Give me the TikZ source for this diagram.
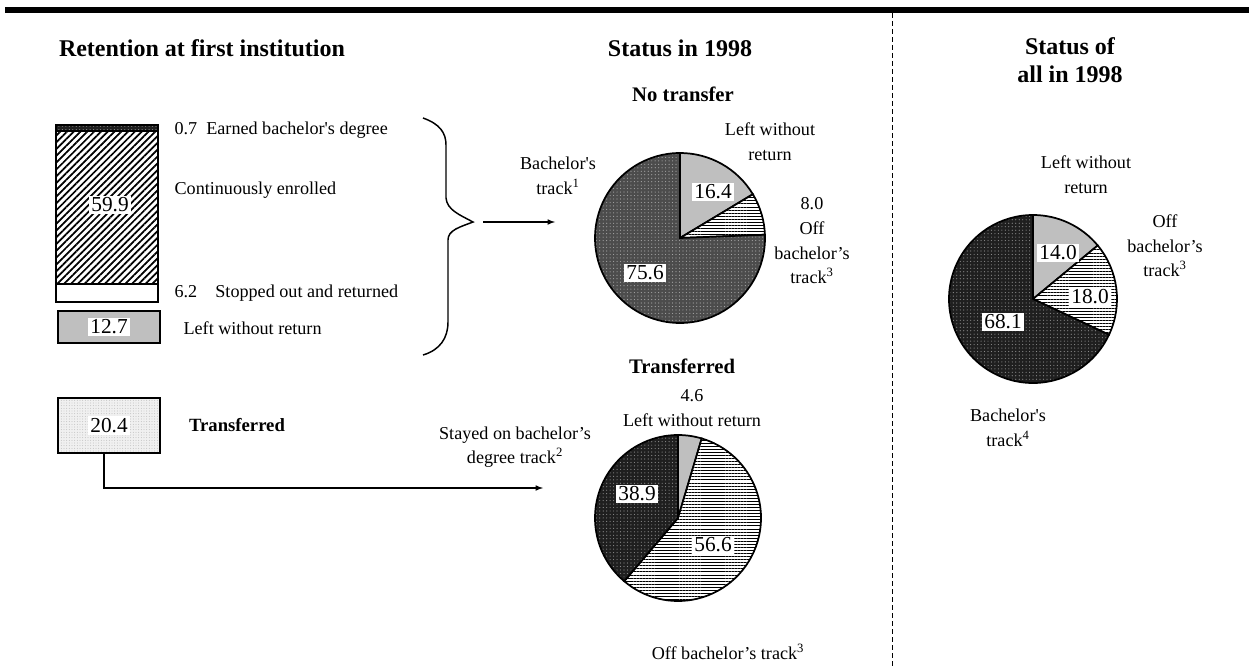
\documentclass[tikz,border=0pt]{standalone}
\usepackage{fontspec}
\setmainfont{Liberation Serif}
\usetikzlibrary{patterns,patterns.meta}
\newcommand{\sq}{\textquotesingle}
\tikzset{
  txt/.style={font=\fontsize{13.6}{18.5}\selectfont, align=center, inner sep=1pt},
  wert/.style={fill=white, inner sep=1.5pt, font=\fontsize{16}{18}\selectfont},
  titel/.style={font=\fontsize{18}{21}\selectfont\bfseries, align=center, inner sep=1pt},
  untertitel/.style={font=\fontsize{15.5}{18}\selectfont\bfseries, inner sep=1pt},
  rand/.style={draw, line width=1pt},
  kreis/.style={draw, line width=1.3pt},
  grau/.style={fill=black!25},
  punkte/.style={preaction={fill=black!88}, pattern={Dots[distance=2.6pt, radius=0.45pt]}, pattern color=black!45},
  mittelpunkte/.style={preaction={fill=black!70}, pattern={Dots[distance=2.6pt, radius=0.45pt]}, pattern color=black!35},
  hellpunkte/.style={preaction={fill=black!6}, pattern={Dots[distance=2pt, radius=0.35pt]}, pattern color=black!30},
  quer/.style={preaction={fill=white}, pattern={Lines[distance=2.3pt, line width=0.7pt]}},
  schraeg/.style={preaction={fill=white}, pattern={Lines[angle=45, distance=3.6pt, line width=1.3pt]}},
  pfeil/.style={-{latex}, line width=0.9pt}
}
\begin{document}
\begin{tikzpicture}[x=0.75pt, y=0.75pt]
  \useasboundingbox (0,0) rectangle (1249,-667);
  % Rahmen
  \draw [line width=4.5pt] (5,-9.7) -- (1249,-9.7);
  \draw [line width=0.75pt, dash pattern=on 3.75pt off 2.25pt] (892,-13) -- (892,-667);
  % Titel
  \node [titel] (tret) at (202,-48) {Retention at first institution};
  \node [titel] (tstat) at (680,-48) {Status in 1998};
  \node [titel] (tall) at (1070,-60) {Status of\\all in 1998};
  \node [untertitel] (tnone) at (683,-94) {No transfer};
  \node [untertitel] (ttrans) at (682,-366) {Transferred};

  % Balken
  \draw [rand, punkte] (56,-125) rectangle (158,-131);
  \draw [rand, schraeg] (56,-131) rectangle (158,-284);
  \draw [rand, fill=white] (56,-284) rectangle (158,-302);
  \node [wert] (w599) at (110,-205) {59.9};
  \node [rand, grau, minimum width=76.5pt, minimum height=24pt] (lwbox) at (109,-327) {};
  \node [wert] (w127) at (lwbox) {12.7};
  \node [rand, hellpunkte, minimum width=76.5pt, minimum height=41.25pt] (transbox) at (109,-425.5) {};
  \node [wert] (w204) at (transbox) {20.4};
  \node [txt, anchor=west] (learn) at (173,-130) {0.7\enspace Earned bachelor\sq s degree};
  \node [txt, anchor=west] (lcont) at (173,-190) {Continuously enrolled};
  \node [txt, anchor=west] (lstop) at (173,-293) {6.2\quad Stopped out and returned};
  \node [txt, anchor=west] (lleft) at (182,-328) {Left without return};
  \node [font=\fontsize{14}{16}\selectfont\bfseries] (ltrans) at (237,-425) {Transferred};

  % Klammer und Pfeile
  \coordinate (bracetip) at (473,-222);
  \draw [line width=1.1pt] (423,-118) .. controls (440,-124) and (446,-133) .. (446,-145)
    -- (446,-198) .. controls (447,-210) and (460,-215) .. (bracetip)
    .. controls (460,-227) and (448,-230) .. (448,-240)
    -- (448,-322) .. controls (448,-338) and (440,-350) .. (423,-355);
  \coordinate (pz1) at (555,-222);
  \coordinate (pz2) at (543,-488);
  \draw [pfeil] ([xshift=7.5pt]bracetip) -- (pz1);
  \draw [pfeil] ([xshift=-3.75pt]transbox.south) |- (pz2);

  % Kreis: keine Uebertragung
  \coordinate (p1) at (680,-238);
  \draw [kreis, grau] (p1) -- ++(90:85) arc [start angle=90, end angle=31, radius=85] -- cycle;
  \draw [kreis, quer] (p1) -- ++(31:85) arc [start angle=31, end angle=2.2, radius=85] -- cycle;
  \draw [kreis, mittelpunkte] (p1) -- ++(2.2:85) arc [start angle=2.2, end angle=-270, radius=85] -- cycle;
  \node [wert] (w164) at (713,-192) {16.4};
  \node [wert] (w756) at (645,-273) {75.6};
  \node [txt] (a1) at (558,-176) {Bachelor\sq s\\track\textsuperscript{1}};
  \node [txt] (b1) at (770,-142) {Left without\\return};
  \node [txt] (c1) at (812,-241) {8.0\\Off\\bachelor's\\track\textsuperscript{3}};

  % Kreis: uebertragen
  \coordinate (p2) at (678,-518);
  \draw [kreis, grau] (p2) -- ++(90:83) arc [start angle=90, end angle=73.4, radius=83] -- cycle;
  \draw [kreis, quer] (p2) -- ++(73.4:83) arc [start angle=73.4, end angle=-130.4, radius=83] -- cycle;
  \draw [kreis, punkte] (p2) -- ++(-130.4:83) arc [start angle=-130.4, end angle=-270, radius=83] -- cycle;
  \node [wert] (w389) at (637,-494) {38.9};
  \node [wert] (w566) at (713,-545) {56.6};
  \node [txt] (a2) at (692,-408) {4.6\\Left without return};
  \node [txt] (b2) at (515,-447) {Stayed on bachelor's\\degree track\textsuperscript{2}};
  \node [txt] (c2) at (728,-652) {Off bachelor's track\textsuperscript{3}};

  % Kreis: alle
  \coordinate (p3) at (1033,-299);
  \draw [kreis, grau] (p3) -- ++(90:84) arc [start angle=90, end angle=39.6, radius=84] -- cycle;
  \draw [kreis, quer] (p3) -- ++(39.6:84) arc [start angle=39.6, end angle=-25.2, radius=84] -- cycle;
  \draw [kreis, punkte] (p3) -- ++(-25.2:84) arc [start angle=-25.2, end angle=-270, radius=84] -- cycle;
  \node [wert] (w140) at (1058,-253) {14.0};
  \node [wert] (w180) at (1090,-297) {18.0};
  \node [wert] (w681) at (1003,-322) {68.1};
  \node [txt] (a3) at (1086,-175) {Left without\\return};
  \node [txt] (b3) at (1165,-246) {Off\\bachelor's\\track\textsuperscript{3}};
  \node [txt] (c3) at (1008,-428) {Bachelor\sq s\\track\textsuperscript{4}};
\end{tikzpicture}
\end{document}
